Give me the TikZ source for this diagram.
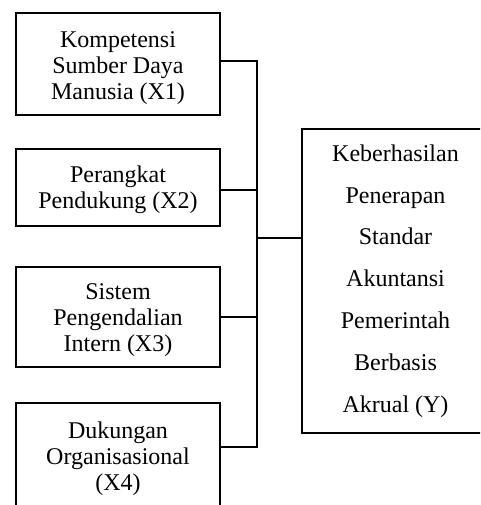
\documentclass[tikz,border=0pt]{standalone}
\usepackage{fontspec}
\setmainfont{Liberation Serif}
\begin{document}
\begin{tikzpicture}[x=1pt,y=-1pt,
  lbox/.style={draw, line width=1.4pt, minimum width=204pt, inner sep=0pt},
  ltext/.style={anchor=north, align=center, inner sep=0pt,
    font=\fontsize{24}{26}\selectfont},
  ybox/.style={draw, line width=1.4pt, align=center, minimum width=187pt,
    minimum height=304pt, inner sep=0pt, font=\fontsize{24}{41.8}\selectfont},
  link/.style={draw, line width=1.4pt}]
\path[use as bounding box] (0,0) rectangle (480,505);
\clip (0,0) rectangle (480,505);
\node[lbox, minimum height=102pt] (b1) at (118,64) {};
\node[lbox, minimum height=77pt] (b2) at (118,187.5) {};
\node[lbox, minimum height=100pt] (b3) at (118,317) {};
\node[lbox, minimum height=104pt] (b4) at (118,455) {};
\node[ltext] (t1) at (b1.north) {\rule{0pt}{35pt}Kompetensi\\Sumber Daya\\Manusia (X1)};
\node[ltext] (t2) at (b2.north) {\rule{0pt}{34pt}Perangkat\\Pendukung (X2)};
\node[ltext] (t3) at (b3.north) {\rule{0pt}{33pt}Sistem\\Pengendalian\\Intern (X3)};
\node[ltext] (t4) at (b4.north) {\rule{0pt}{36pt}Dukungan\\Organisasional\\(X4)};
\node[ybox] (y) at (395.5,281) {Keberhasilan\\Penerapan\\Standar\\Akuntansi\\Pemerintah\\Berbasis\\Akrual (Y)};
\coordinate (j) at (257,238);
\path[link] ([yshift=3pt]b1.east) -| (j);
\path[link] ([yshift=8pt]b4.east) -| (j);
\path[link] ([yshift=-2.5pt]b2.east) -- ([yshift=-2.5pt]b2.east -| j);
\path[link] (b3.east) -- (b3.east -| j);
\path[link] (j) -- (j -| y.west);
\end{tikzpicture}
\end{document}
